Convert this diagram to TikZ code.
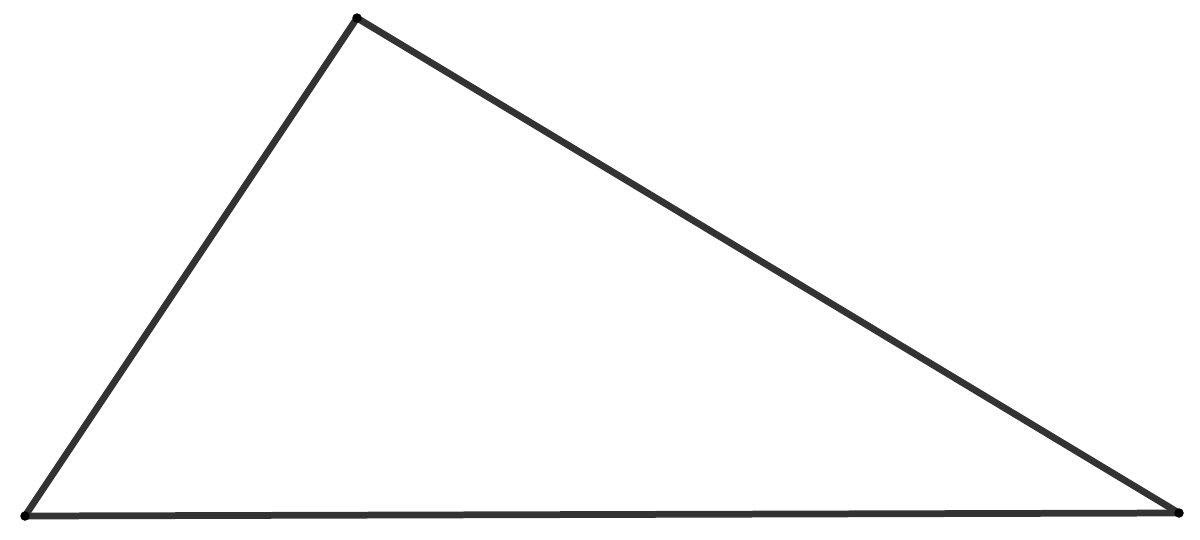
\documentclass[tikz,border=0pt]{standalone}
\usepackage{tikz}

\begin{document}
\begin{tikzpicture}[x=0.02cm,y=-0.02cm]
        \useasboundingbox (0,0) rectangle (1200,539);
        \tikzset{vertexdot/.style={circle, fill=black, inner sep=0pt, minimum size=0.19cm},
                 edgeline/.style={draw=black!80, line width=0.135cm, line cap=round}}
        \coordinate (a) at (25,516);
        \coordinate (b) at (357,18);
        \coordinate (c) at (1179,513);

        \draw[edgeline] (a) -- (b);
        \draw[edgeline] (b) -- (c);
        \draw[edgeline] (c) -- (a);

        \node (pa) [vertexdot] at (a) {};
        \node (pb) [vertexdot] at (b) {};
        \node (pc) [vertexdot] at (c) {};
    \end{tikzpicture}
\end{document}
